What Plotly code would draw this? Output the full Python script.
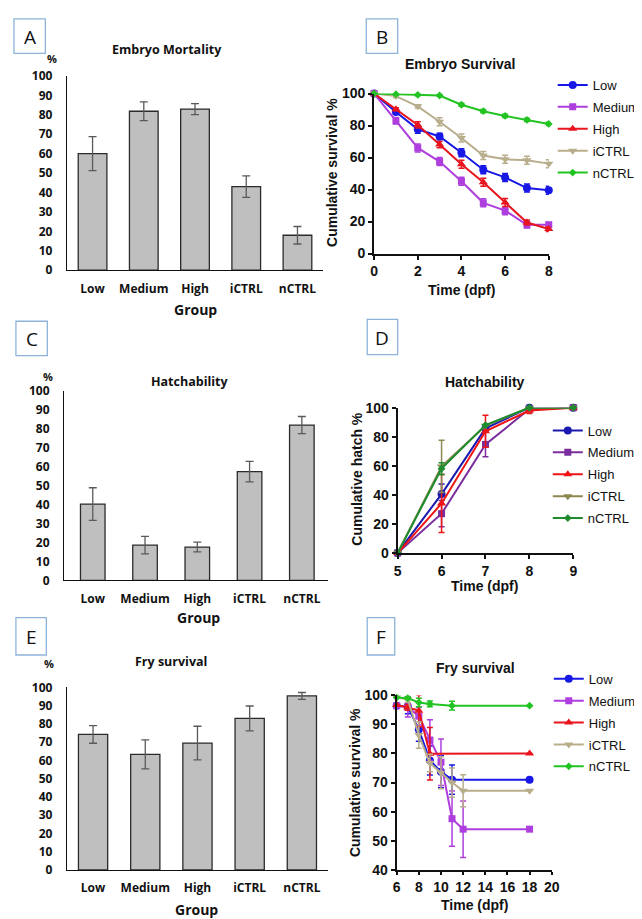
import plotly.graph_objects as go

W, H = 642, 919

groups = ["Low", "Medium", "High", "iCTRL", "nCTRL"]

# Panel A: Embryo mortality (%)
mort_vals = [60, 81.8, 82.9, 43, 18]
mort_err = [8.7, 4.8, 2.8, 5.5, 4.5]

# Panel C: Hatchability (%)
hatch_vals = [40.3, 18.6, 17.6, 57.4, 82]
hatch_err = [8.6, 4.6, 2.6, 5.4, 4.5]

# Panel E: Fry survival (%)
fry_vals = [74.2, 63.3, 69.5, 83, 95.3]
fry_err = [4.8, 7.9, 9.2, 6.8, 1.9]

# Panel B: Embryo survival curves
b_days = [0, 1, 2, 3, 4, 5, 6, 7, 8]
b_low = [100, 88.5, 77.7, 73.2, 63, 52.4, 47.6, 40.9, 39.5]
b_med = [100, 83, 66, 57.5, 45.2, 31.7, 26.8, 18, 18]
b_high = [100, 90.2, 80.4, 68.1, 55.8, 44.6, 31.9, 19.4, 15.3]
b_ictrl = [100, 98.4, 92, 82.4, 72.2, 61.3, 58.9, 58.3, 56.2]
b_nctrl = [100, 99.6, 99.2, 98.8, 93, 89, 86, 83.6, 81]
b_low_e = [0, 1.5, 2.5, 2, 2.5, 2.5, 2.5, 2.5, 2.5]
b_med_e = [0, 2, 2.5, 2.5, 2.5, 2.5, 2.5, 2, 1.5]
b_high_e = [0, 1, 2, 2, 2.5, 2.5, 2.5, 1.5, 1.5]
b_ictrl_e = [0, 1, 1, 2.5, 2.5, 2.5, 2.5, 2.5, 2.5]
b_nctrl_e = [0, 0.5, 0.5, 0.5, 1, 1, 1, 1, 1]

# Panel D: Cumulative hatch
d_days = [5, 6, 7, 8, 9]
d_low = [0, 40.5, 85.7, 100, 100]
d_med = [0, 27, 74.7, 99, 100]
d_high = [0, 34, 83.7, 98, 100]
d_ictrl = [0, 59.5, 87.5, 100, 100]
d_nctrl = [0, 58, 88, 100, 100]
d_low_e = [0, 7, 2, 0, 0]
d_med_e = [0, 9, 8.5, 0, 0]
d_high_e = [0, 20, 11, 2, 0]
d_ictrl_e = [0, 18, 0, 0, 0]
d_nctrl_e = [0, 4, 0, 0, 0]

# Panel F: Fry survival curves
f_low_x = [6, 7, 8, 9, 10, 11, 18]
f_low = [96.4, 96.1, 88.2, 77.6, 73.7, 71, 71]
f_low_e = [0, 2.5, 4, 5, 5.5, 5, 0]
f_med_x = [6, 7, 8, 9, 10, 11, 12, 18]
f_med = [96.4, 96, 92.8, 84.6, 77, 57.6, 54, 54]
f_med_e = [0, 3.5, 3, 7, 8, 9.5, 9.7, 0]
f_high_x = [6, 7, 8, 9, 18]
f_high = [96.6, 95.8, 94.7, 79.9, 80]
f_high_e = [0, 1, 5.5, 9, 0]
f_ictrl_x = [6, 7, 8, 9, 10, 11, 12, 18]
f_ictrl = [99.2, 98.6, 86.3, 76.7, 73.4, 70, 67.2, 67.2]
f_ictrl_e = [0, 1, 4.5, 3, 5.5, 5, 5.5, 0]
f_nctrl_x = [6, 7, 8, 9, 11, 18]
f_nctrl = [99.2, 99, 97.5, 97, 96.4, 96.4]
f_nctrl_e = [0, 0.5, 1.5, 1, 1.5, 0]


def px(x):
    return x / W


def py(y):
    return 1 - y / H


BAR_FONT = "Open Sans"
ARIAL = "Liberation Sans, Arial"

fig = go.Figure()

# ---------- bar panels ----------
bar_specs = [
    ("x", "y", mort_vals, mort_err, 0.56),
    ("x3", "y3", hatch_vals, hatch_err, 0.47),
    ("x5", "y5", fry_vals, fry_err, 0.56),
]
for xa, ya, vals, errs, bw in bar_specs:
    fig.add_trace(go.Bar(
        x=groups, y=vals, xaxis=xa, yaxis=ya, width=bw,
        marker=dict(color="#BFBFBF", line=dict(color="#2b2b2b", width=1.3)),
        error_y=dict(type="data", array=errs, color="#5a5a5a", thickness=1.3, width=4),
        showlegend=False,
    ))

# ---------- line panels ----------
colsBF = {"Low": "#1818E6", "Medium": "#AE3FDE", "High": "#E8141E",
          "iCTRL": "#B8AE8C", "nCTRL": "#22C322"}
colsD = {"Low": "#1A1AB0", "Medium": "#7A2E9E", "High": "#F01414",
         "iCTRL": "#8C8950", "nCTRL": "#1E8C2E"}
symbols = {"Low": "circle", "Medium": "square", "High": "triangle-up",
           "iCTRL": "triangle-down", "nCTRL": "diamond"}
msize = {"Low": 8, "Medium": 7, "High": 8, "iCTRL": 8, "nCTRL": 6}

B_series = [("Low", b_days, b_low, b_low_e), ("Medium", b_days, b_med, b_med_e),
            ("High", b_days, b_high, b_high_e), ("iCTRL", b_days, b_ictrl, b_ictrl_e),
            ("nCTRL", b_days, b_nctrl, b_nctrl_e)]
D_series = [("Low", d_days, d_low, d_low_e), ("Medium", d_days, d_med, d_med_e),
            ("High", d_days, d_high, d_high_e), ("iCTRL", d_days, d_ictrl, d_ictrl_e),
            ("nCTRL", d_days, d_nctrl, d_nctrl_e)]
F_series = [("Low", f_low_x, f_low, f_low_e), ("Medium", f_med_x, f_med, f_med_e),
            ("High", f_high_x, f_high, f_high_e), ("iCTRL", f_ictrl_x, f_ictrl, f_ictrl_e),
            ("nCTRL", f_nctrl_x, f_nctrl, f_nctrl_e)]

for series, xa, ya, leg, cols in [(B_series, "x2", "y2", "legend", colsBF),
                                  (D_series, "x4", "y4", "legend2", colsD),
                                  (F_series, "x6", "y6", "legend3", colsBF)]:
    for rank, (name, xs, ys, es) in enumerate(series):
        c = cols[name]
        fig.add_trace(go.Scatter(
            x=xs, y=ys, xaxis=xa, yaxis=ya, name=name, legend=leg,
            legendgroup=leg + name,
            mode="lines+markers", cliponaxis=False,
            line=dict(color=c, width=2),
            marker=dict(symbol=symbols[name], size=msize[name], color=c),
            error_y=dict(type="data", array=es, color=c, thickness=1.5, width=3),
            legendrank=rank + 1,
        ))

# ---------- axes ----------
def bar_axes(xdom, ydom, xrange):
    xa = dict(domain=xdom, type="category", range=xrange, showline=True,
              linecolor="#111", linewidth=1.2, showgrid=False, zeroline=False,
              ticks="", tickfont=dict(family=BAR_FONT, size=12, color="#111", weight="bold"),
              ticklabelstandoff=7, fixedrange=True)
    ya = dict(domain=ydom, range=[0, 100], dtick=10, showline=True, linecolor="#111",
              linewidth=1.2, showgrid=False, zeroline=False, ticks="",
              tickfont=dict(family=BAR_FONT, size=12, color="#111", weight="bold"),
              ticklabelstandoff=11, fixedrange=True)
    return xa, ya

xA, yA = bar_axes([px(56), px(317)], [py(258), py(60)], [-0.5, 4.5])
xC, yC = bar_axes([px(53), px(322)], [py(574), py(381)], [-0.55, 4.5])
xE, yE = bar_axes([px(56), px(322)], [py(869), py(683)], [-0.5, 4.5])

line_tick_font = dict(family=ARIAL, size=14, color="#111", weight="bold")
def line_axes(xdom, ydom, xr, yr, xd, yd, tl=4):
    xa = dict(domain=xdom, range=xr, dtick=xd, showline=True, linecolor="#111",
              linewidth=2, showgrid=False, zeroline=False, ticks="outside", ticklen=tl,
              tickwidth=2, tickcolor="#111", tickfont=line_tick_font, fixedrange=True)
    ya = dict(domain=ydom, range=yr, dtick=yd, showline=True, linecolor="#111",
              linewidth=2, showgrid=False, zeroline=False, ticks="outside", ticklen=4,
              tickwidth=2, tickcolor="#111", tickfont=line_tick_font, fixedrange=True)
    return xa, ya

xB, yB = line_axes([px(369), px(547)], [py(241), py(78)], [0, 8], [0, 100], 2, 20)
xD, yD = line_axes([px(393), px(572)], [py(546), py(398)], [5, 9], [0, 100], 1, 20)
xF, yF = line_axes([px(392), px(550)], [py(869), py(691)], [6, 20], [40, 100], 2, 10, tl=3)

for k, (xa, ya) in enumerate([(xA, yA), (xB, yB), (xC, yC), (xD, yD), (xE, yE), (xF, yF)]):
    s = "" if k == 0 else str(k + 1)
    xa["anchor"] = "y" + s
    ya["anchor"] = "x" + s
    fig.layout["xaxis" + s] = xa
    fig.layout["yaxis" + s] = ya

# ---------- annotations ----------
ann = []
def text(x, y, t, size, family, bold=True, angle=0, xanchor="center"):
    ann.append(dict(x=px(x), y=py(y), xref="paper", yref="paper", text=t, showarrow=False,
                    xanchor=xanchor, yanchor="middle", textangle=angle,
                    font=dict(family=family, size=size, color="#111",
                              weight="bold" if bold else "normal")))

# bar panel titles & labels
text(158, 33, "Embryo Mortality", 12.5, BAR_FONT)
text(41, 42, "%", 11, BAR_FONT)
text(187, 298, "Group", 14, BAR_FONT)
text(181, 371, "Hatchability", 12.5, BAR_FONT)
text(37, 366, "%", 11, BAR_FONT)
text(190, 612, "Group", 14, BAR_FONT)
text(162, 657, "Fry survival", 12.5, BAR_FONT)
text(38, 659, "%", 11, BAR_FONT)
text(188, 909, "Group", 14, BAR_FONT)

# line panel titles
text(457, 48, "Embryo Survival", 14, ARIAL)
text(458, 278, "Time (dpf)", 14, ARIAL)
text(326, 158, "Cumulative survival %", 14, ARIAL, angle=-90)
text(482, 372, "Hatchability", 14, ARIAL)
text(482, 580, "Time (dpf)", 14, ARIAL)
text(352, 470, "Cumulative hatch %", 14, ARIAL, angle=-90)
text(472, 663, "Fry survival", 14, ARIAL)
text(471, 905, "Time (dpf)", 14, ARIAL)
text(349, 780, "Cumulative survival %", 14, ARIAL, angle=-90)

# panel letter boxes
shapes = []
boxes = [("A", 2, 2, 34, 37), ("B", 361, 2, 393, 37), ("C", 4, 310, 36, 345),
         ("D", 362, 308, 393, 344), ("E", 4, 612, 35, 650), ("F", 362, 612, 390, 650)]
for lab, x0, y0, x1, y1 in boxes:
    shapes.append(dict(type="rect", xref="paper", yref="paper", x0=px(x0), x1=px(x1),
                       y0=py(y1), y1=py(y0), line=dict(color="#8EB4DA", width=1.3)))
    text((x0 + x1) / 2, (y0 + y1) / 2 + 1, lab, 19, "Open Sans", bold=False)

def leg(x, y, gap):
    return dict(font=dict(family=ARIAL, size=13, color="#111"), bgcolor="rgba(0,0,0,0)",
                xref="paper", yref="paper", xanchor="left", yanchor="top",
                tracegroupgap=gap, itemclick=False, itemdoubleclick=False,
                x=px(x), y=py(y))

fig.update_layout(
    width=W, height=H, margin=dict(l=0, r=0, t=0, b=0),
    paper_bgcolor="white", plot_bgcolor="white",
    annotations=ann, shapes=shapes,
    legend=leg(551, 54, 2),
    legend2=leg(546, 406, 2),
    legend3=leg(547, 659, 2),
)

fig.write_html("out.html")
